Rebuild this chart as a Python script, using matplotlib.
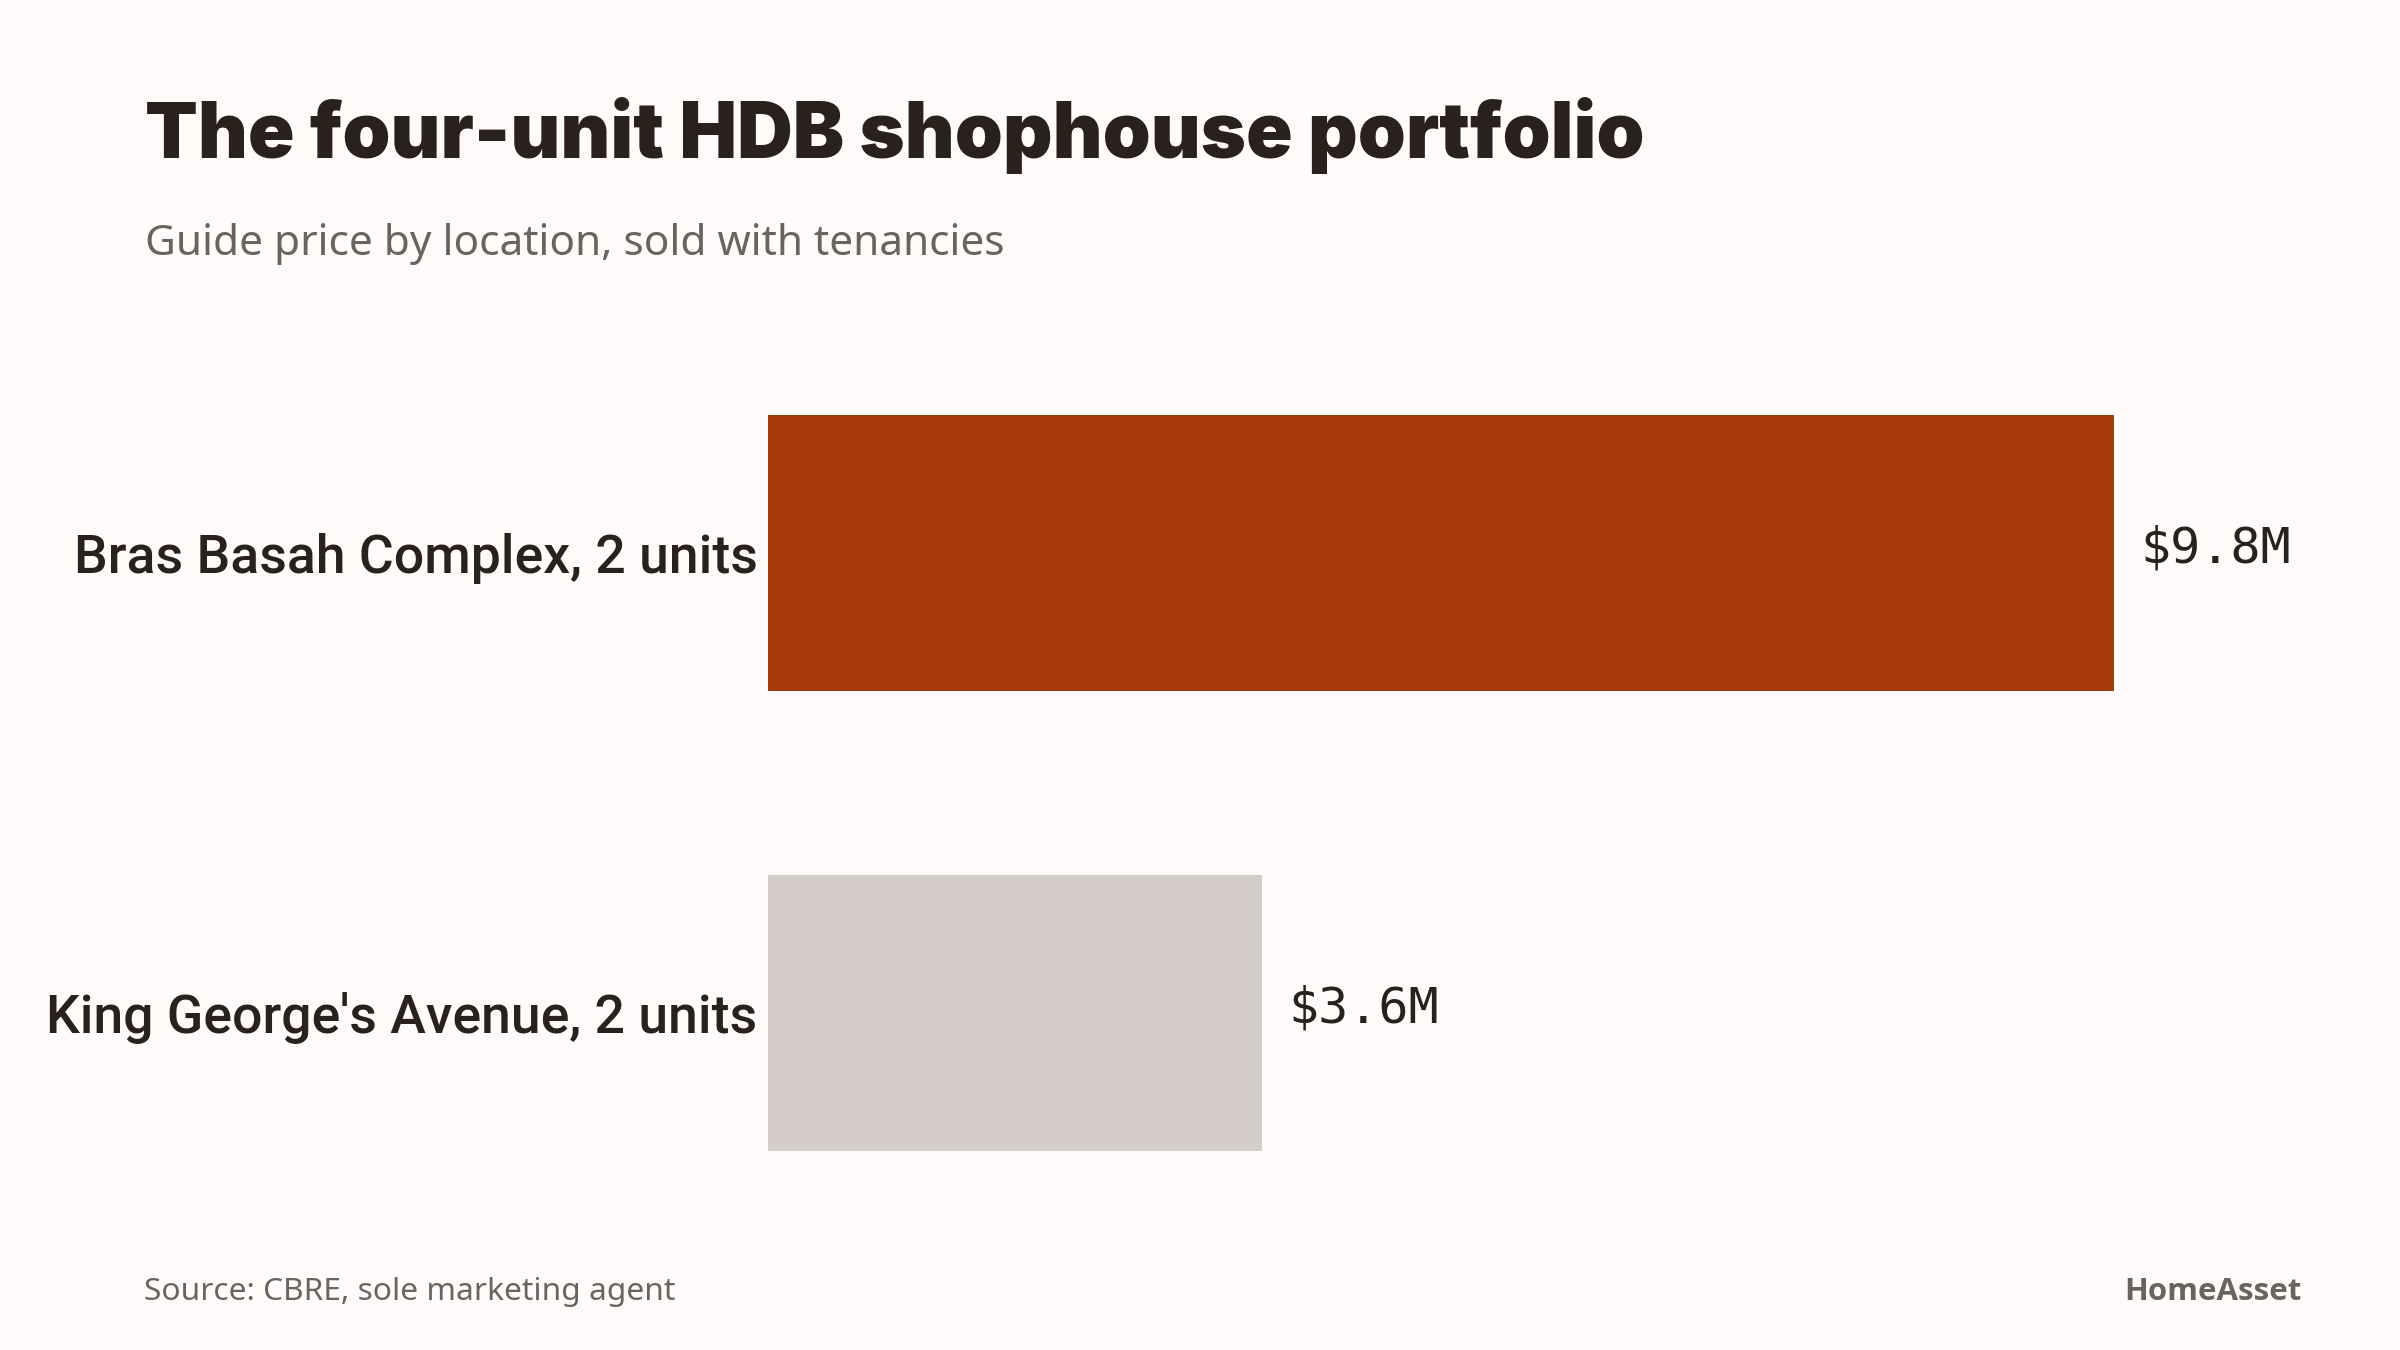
import matplotlib.pyplot as plt

# data
locations = ["Bras Basah Complex, 2 units", "King George's Avenue, 2 units"]
prices = [9.8, 3.6]
price_labels = ["$9.8M", "$3.6M"]

BG = "#fefbfa"
INK = "#2a201c"
GREY_TXT = "#6b6360"
bar_colors = ["#a53a0d", "#d5cdca"]

fig = plt.figure(figsize=(24, 13.5), dpi=100)
fig.patch.set_facecolor(BG)

# axes placed in pixels of the 2400x1350 canvas
W, H = 2400, 1350
left, right, top, bottom = 768, 2114, 415, 1151
ax = fig.add_axes([left / W, 1 - bottom / H, (right - left) / W, (bottom - top) / H])
ax.set_facecolor(BG)

ypos = list(range(len(locations)))
ax.barh(ypos, prices, height=0.6, color=bar_colors)
ax.set_xlim(0, max(prices))
ax.set_ylim(len(locations) - 0.7, -0.3)

ax.set_yticks(ypos)
ax.set_yticklabels(locations, fontsize=38.5, color=INK, fontweight="medium",
                   family=["Roboto", "Noto Sans", "DejaVu Sans"])
ax.tick_params(axis="y", length=0, pad=7.5)
ax.set_xticks([])
for s in ax.spines.values():
    s.set_visible(False)

for y, v, lab in zip(ypos, prices, price_labels):
    ax.annotate(lab, (v, y), xytext=(19, 3), textcoords="offset points",
                ha="left", va="center", fontsize=36, color=INK,
                family=["DejaVu Sans Mono"])

fig.text(145 / W, 1 - 158 / H, "The four-unit HDB shophouse portfolio",
         fontsize=55.4, fontweight="black", color=INK, family=["Inter", "DejaVu Sans"],
         ha="left", va="baseline")
fig.text(145 / W, 1 - 255 / H, "Guide price by location, sold with tenancies",
         fontsize=30.5, color=GREY_TXT, family=["Noto Sans", "DejaVu Sans"],
         ha="left", va="baseline")
fig.text(144 / W, 1 - 1300 / H, "Source: CBRE, sole marketing agent",
         fontsize=22.8, color=GREY_TXT, family=["Noto Sans", "DejaVu Sans"],
         ha="left", va="baseline")
fig.text(2302 / W, 1 - 1300 / H, "HomeAsset",
         fontsize=22.5, fontweight="bold", color=GREY_TXT, family=["Open Sans", "DejaVu Sans"],
         ha="right", va="baseline")

fig.savefig("out.png", dpi=100, facecolor=BG)
